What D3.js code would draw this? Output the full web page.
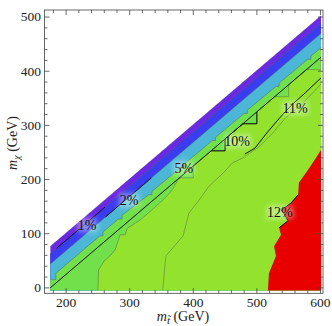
<!DOCTYPE html>
<html><head><meta charset="utf-8">
<script src="https://cdn.jsdelivr.net/npm/d3@7"></script>
<style>body{margin:0;background:#fff}svg{display:block}text{font-family:"Liberation Serif","Times New Roman",serif}</style>
</head><body><svg id="c" width="332" height="326"></svg>
<script>
// ---- data (GeV) ----
const stopRange = [175, 601];
const chiFloor = -5;
const kinGap = 98;              // upper-left edge of scanned region: m_chi = m_stop - 98
const purpleBlueDelta = 112;    // 1% contour
const blueCyanDelta = 131;      // 2% contour
const topDelta = 175;           // m_chi = m_stop - m_top
const cyanEdge = [[175,15],[184,15],[184,27],[253,96],[258,96],[258,103],[282,127],[288,127],[288,134],[330,172],[335,172],[335,178],[380,222],[385,222],[385,228],[430,272],[435,272],[435,278],[480,322],[485,322],[485,328],[530,372],[535,372],[535,378],[580,422],[585,422],[585,428],[610,452]];
const greenEdge = [[250,-10],[251,33],[260,50],[269,59],[277,70],[285,98],[293,98],[296,110],[316,125],[335,144],[352,162],[365,178],[378,203],[400,203],[400,225],[428,253],[450,253],[450,275],[478,303],[500,303],[500,325],[528,353],[550,353],[550,375],[578,403],[601,403],[601,426]];
const redEdge = [[517,-10],[519,27],[530,59],[527,77],[538,98],[535,111],[549,124],[539,144],[554,157],[565,172],[566,194],[577,212],[588,231],[601,255],[601,270]];
const grayLine = [[352,-5],[355,37],[357,59],[384,96],[393,138],[409,162],[425,188],[447,212],[462,231],[478,240],[503,260],[525,286],[546,315],[566,334],[588,360],[602,378]];
const line11 = [[481,247],[497,258],[517,288],[536,314],[555,338],[576,360],[602,389]];
const xTicks = [200,300,400,500,600];
const yTicks = [0,100,200,300,400,500];
const labelText = ["1%","2%","5%","10%","11%","12%"];
const labelStop = [233,299,385,469,560,536];
const labelChi = [116,162,221,271,332,140];
// stop-mass window in which each labelled contour is inked black
const inkFrom = [185,262,345,420,0,530];
const inkTo = [262,335,405,505,0,556];
const fills = {purple:"#6a2ae2", blue:"#3a3cf2", cyan:"#4cb6d6", lightGreen:"#72e04a", yellowGreen:"#92e22e", red:"#e80000"};

// ---- drawing ----
const svg = d3.select("#c");
const x = d3.scaleLinear([166,604],[44.5,323]);
const y = d3.scaleLinear([-10,513],[293.3,10]);
const line = d3.line().x(d=>x(d[0])).y(d=>y(d[1]));

const dom = [[stopRange[0],chiFloor],[stopRange[0],stopRange[0]-kinGap],[stopRange[1],stopRange[1]-kinGap],[stopRange[1],chiFloor]];
svg.append("clipPath").attr("id","dom").append("path").attr("d",line(dom)+"Z");
const defs = svg.append("defs");
const f = defs.append("filter").attr("id","glow").attr("x","-50%").attr("y","-50%").attr("width","200%").attr("height","200%");
f.append("feGaussianBlur").attr("stdDeviation",2.5);

const g = svg.append("g").attr("clip-path","url(#dom)");
function below(edge){
  const a=edge[0], b=edge[edge.length-1];
  return [[a[0]-60,a[1]],...edge,[b[0]+60,b[1]],[b[0]+60,-80],[a[0]-60,-80]];
}
function deltaLine(d){ return [[120,120-d],[660,660-d]]; }
function window_(edge,a,b){ return edge.filter(p=>p[0]>=a&&p[0]<=b); }
g.append("path").attr("d",line(dom)+"Z").attr("fill",fills.purple);
g.append("path").attr("d",line(below(deltaLine(purpleBlueDelta)))+"Z").attr("fill",fills.blue);
g.append("path").attr("d",line(below(deltaLine(blueCyanDelta)))+"Z").attr("fill",fills.cyan);
g.append("path").attr("d",line(below(cyanEdge))+"Z").attr("fill",fills.lightGreen);
g.append("path").attr("d",line(below(greenEdge))+"Z").attr("fill",fills.yellowGreen);
g.append("path").attr("d",line(below(redEdge))+"Z").attr("fill",fills.red);

const gray = "#55654a";
[deltaLine(purpleBlueDelta),deltaLine(blueCyanDelta),cyanEdge,greenEdge,grayLine].forEach(e=>{
  g.append("path").attr("d",line(e)).attr("fill","none").attr("stroke",gray).attr("stroke-width",0.6).attr("stroke-opacity",0.8);
});
g.append("path").attr("d",line(deltaLine(kinGap-1))).attr("stroke","#4a18b0").attr("stroke-width",1.2).attr("fill","none");
// black contours
const ink = (pts,w)=>g.append("path").attr("d",line(pts)).attr("stroke","#000").attr("stroke-width",w).attr("fill","none");
ink(deltaLine(topDelta),0.9);
ink(line11,0.9);
const contourPts = [
  d3.range(inkFrom[0],inkTo[0]+1,4).map(m=>[m,m-purpleBlueDelta]),
  d3.range(inkFrom[1],inkTo[1]+1,4).map(m=>[m,m-blueCyanDelta]),
  window_(cyanEdge,inkFrom[2],inkTo[2]),
  window_(greenEdge,inkFrom[3],inkTo[3]),
  null,
  redEdge.filter(p=>p[1]>=100&&p[1]<=175)
];
contourPts.forEach(p=>{ if(p) ink(p,0.9); });

// labels with halo
labelText.forEach((t,i)=>{
  const px=x(labelStop[i]), py=y(labelChi[i]);
  svg.append("text").attr("x",px).attr("y",py).attr("dy","0.35em").attr("text-anchor","middle")
    .attr("font-size",14).attr("fill","#fff").attr("stroke","#fff").attr("stroke-width",4).attr("opacity",0.4).attr("filter","url(#glow)").text(t);
  svg.append("text").attr("x",px).attr("y",py).attr("dy","0.35em").attr("text-anchor","middle")
    .attr("font-size",14).attr("fill","#111").text(t);
});

// frame + ticks
const fr = svg.append("g").attr("stroke","#444").attr("stroke-width",0.8);
fr.append("rect").attr("x",44.5).attr("y",10).attr("width",323-44.5).attr("height",293.3-10).attr("fill","none");
d3.range(180,604,20).forEach(v=>{
  const major = v%100===0, L = major?5:3;
  fr.append("line").attr("x1",x(v)).attr("x2",x(v)).attr("y1",293.3).attr("y2",293.3-L);
  fr.append("line").attr("x1",x(v)).attr("x2",x(v)).attr("y1",10).attr("y2",10+L);
});
d3.range(0,513,20).forEach(v=>{
  const major = v%100===0, L = major?5:3;
  fr.append("line").attr("y1",y(v)).attr("y2",y(v)).attr("x1",44.5).attr("x2",44.5+L);
  fr.append("line").attr("y1",y(v)).attr("y2",y(v)).attr("x1",323).attr("x2",323-L);
});
xTicks.forEach(v=>svg.append("text").attr("x",x(v)).attr("y",307).attr("text-anchor","middle").attr("font-size",13.5).attr("fill","#222").text(v));
yTicks.forEach(v=>svg.append("text").attr("x",41).attr("y",y(v)).attr("dy","0.33em").attr("text-anchor","end").attr("font-size",13.5).attr("fill","#222").text(v));

// axis titles
const xt = svg.append("text").attr("x",183).attr("y",321).attr("text-anchor","middle").attr("font-size",14).attr("fill","#222");
xt.append("tspan").attr("font-style","italic").text("m");
xt.append("tspan").attr("font-style","italic").attr("font-size",11).attr("dy",3).text("t\u0303");
xt.append("tspan").attr("dy",-3).text(" (GeV)");
const yt = svg.append("text").attr("transform","translate(17,143) rotate(-90)").attr("text-anchor","middle").attr("font-size",14).attr("fill","#222");
yt.append("tspan").attr("font-style","italic").text("m");
yt.append("tspan").attr("font-style","italic").attr("font-size",10).attr("dy",3).text("\u03c7");
yt.append("tspan").attr("dy",-3).text(" (GeV)");
</script></body></html>
